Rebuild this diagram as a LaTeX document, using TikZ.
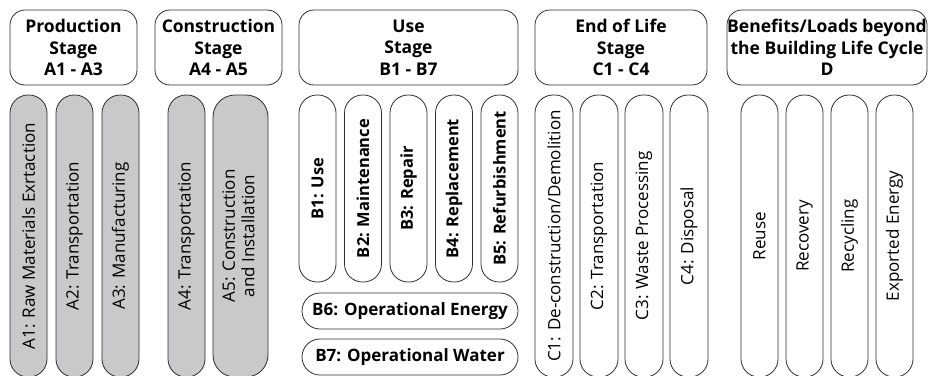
\documentclass[tikz,border=0pt]{standalone}
\usepackage{fontspec}
\setmainfont{Open Sans}
\usetikzlibrary{positioning}
\definecolor{pillgrey}{RGB}{201,201,203}
\definecolor{edgegrey}{RGB}{45,45,45}

\begin{document}
\begin{tikzpicture}[x=1pt,y=-1pt,node distance=10pt,
   stagebox/.style={draw=edgegrey, line width=0.8pt, outer sep=0pt, rectangle, rounded corners=15pt, minimum height=75pt, inner sep=0pt, align=center, font=\bfseries\fontsize{17.5}{21.5}\selectfont},
   pill/.style={draw=edgegrey, line width=0.8pt, outer sep=0pt, rectangle, rounded corners=18pt, minimum width=37pt, minimum height=282pt, inner sep=0pt, align=center, font=\fontsize{17}{20.5}\selectfont},
   greypill/.style={pill, fill=pillgrey},
   usepill/.style={pill, minimum height=187pt, font=\bfseries\fontsize{16.5}{19}\selectfont},
   widepill/.style={pill, minimum width=216pt, minimum height=36pt, font=\bfseries\fontsize{17}{19}\selectfont}]

   \useasboundingbox (0,0) rectangle (937,375);

   % stage headers
   \node[stagebox, minimum width=127pt, anchor=north west] (prod) at (10,10) {Production\\Stage\\A1 - A3};
   \node[stagebox, minimum width=127pt] (cons) [right=18pt of prod] {Construction\\Stage\\A4 - A5};
   \node[stagebox, minimum width=219pt] (use) [right=17pt of cons] {Use\\Stage\\B1 - B7};
   \node[stagebox, minimum width=172pt] (eol) [right=17pt of use] {End of Life\\Stage\\C1 - C4};
   \node[stagebox, minimum width=200pt] (ben) [right=20pt of eol] {Benefits/Loads beyond\\the Building Life Cycle\\D};

   % A modules
   \node[greypill] (a1) [below=10pt of prod.south west, anchor=north west] {\rotatebox{90}{A1: Raw Materials Exrtaction}};
   \node[greypill] (a2) [right=9pt of a1] {\rotatebox{90}{A2: Transportation}};
   \node[greypill] (a3) [right=9pt of a2] {\rotatebox{90}{A3: Manufacturing}};
   \node[greypill] (a4) [below right=10pt and 13pt of cons.south west, anchor=north west] {\rotatebox{90}{A4: Transportation}};
   \node[greypill, minimum width=55pt, rounded corners=22pt] (a5) [right=8pt of a4] {\rotatebox{90}{\begin{tabular}{@{}c@{}}A5: Construction\\[-1pt]and Installation\end{tabular}}};

   % B modules
   \node[usepill] (b1) [below=10pt of use.south west, anchor=north west] {\rotatebox{90}{B1: Use}};
   \node[usepill] (b2) [right=8.5pt of b1] {\rotatebox{90}{B2: Maintenance}};
   \node[usepill] (b3) [right=8.5pt of b2] {\rotatebox{90}{B3: Repair}};
   \node[usepill] (b4) [right=8.5pt of b3] {\rotatebox{90}{B4: Replacement}};
   \node[usepill] (b5) [right=8.5pt of b4] {\rotatebox{90}{B5: Refurbishment}};
   \node[widepill] (b6) [below=11pt of b5.south east, anchor=north east] {B6: Operational Energy};
   \node[widepill] (b7) [below=10pt of b6] {B7: Operational Water};

   % C modules
   \node[pill, minimum width=38pt] (c1) [below=10pt of eol.south west, anchor=north west] {\rotatebox{90}{C1: De-construction/Demolition}};
   \node[pill, minimum width=38pt] (c2) [right=7pt of c1] {\rotatebox{90}{C2: Transportation}};
   \node[pill, minimum width=38pt] (c3) [right=7pt of c2] {\rotatebox{90}{C3: Waste Processing}};
   \node[pill, minimum width=38pt] (c4) [right=7pt of c3] {\rotatebox{90}{C4: Disposal}};

   % D modules
   \node[pill] (d1) [below right=10pt and 14pt of ben.south west, anchor=north west] {\rotatebox{90}{Reuse}};
   \node[pill] (d2) [right=8pt of d1] {\rotatebox{90}{Recovery}};
   \node[pill] (d3) [right=8pt of d2] {\rotatebox{90}{Recycling}};
   \node[pill] (d4) [right=8pt of d3] {\rotatebox{90}{Exported Energy}};

\end{tikzpicture}
\end{document}
